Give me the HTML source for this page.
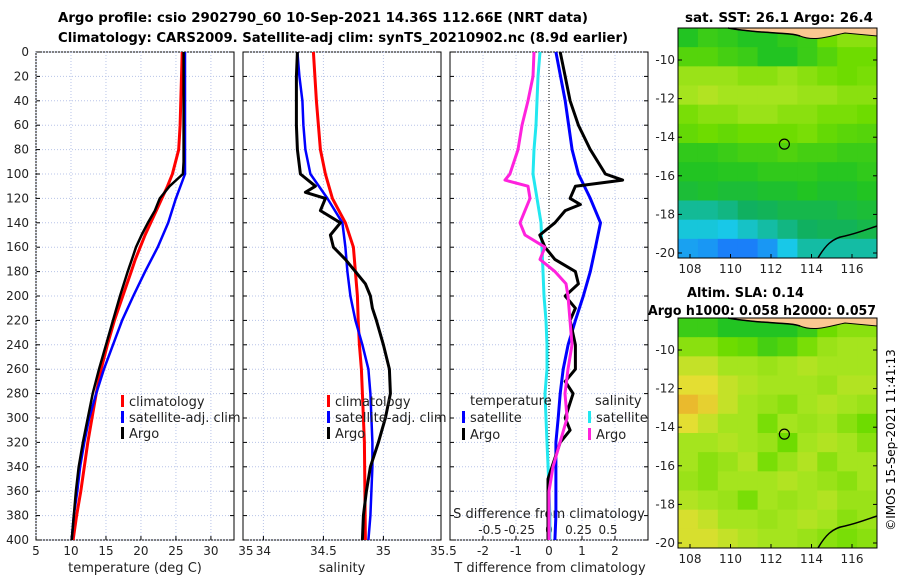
<!DOCTYPE html>
<html><head><meta charset="utf-8"><style>
body{margin:0;background:#fff;width:900px;height:580px;overflow:hidden;font-family:"Liberation Sans","DejaVu Sans",sans-serif}
svg text{font-family:"DejaVu Sans","Liberation Sans",sans-serif}
</style></head><body>
<svg id="c" width="900" height="580" xmlns="http://www.w3.org/2000/svg">
<text x="58" y="22" textLength="530" lengthAdjust="spacingAndGlyphs" font-size="13" font-weight="bold">Argo profile: csio 2902790_60 10-Sep-2021 14.36S 112.66E (NRT data)</text>
<text x="58" y="42" textLength="570" lengthAdjust="spacingAndGlyphs" font-size="13" font-weight="bold">Climatology: CARS2009. Satellite-adj clim: synTS_20210902.nc (8.9d earlier)</text>
<text x="685" y="22" textLength="188" lengthAdjust="spacingAndGlyphs" font-size="13" font-weight="bold">sat. SST: 26.1 Argo: 26.4</text>
<text x="687" y="297" textLength="117" lengthAdjust="spacingAndGlyphs" font-size="13" font-weight="bold">Altim. SLA: 0.14</text>
<text x="648" y="315" textLength="228" lengthAdjust="spacingAndGlyphs" font-size="13" font-weight="bold">Argo h1000: 0.058 h2000: 0.057</text>
<text transform="translate(895,440) rotate(-90)" font-size="12" text-anchor="middle">©IMOS 15-Sep-2021 11:41:13</text>
<g id="g"></g>
</svg>
<script>
// ---- data ----
const tClimDepth=[0,20,40,60,80,100,110,120,130,140,150,160,170,180,200,220,240,260,280,300,320,340,360,380,400];
const tClim=[25.9,25.8,25.7,25.6,25.4,24.5,23.8,23.0,22.2,21.4,20.6,19.9,19.2,18.6,17.4,16.2,15.2,14.3,13.6,13.0,12.4,11.9,11.4,10.8,10.3];
const tSatDepth=[0,20,40,60,80,100,120,140,160,180,200,220,240,260,280,300,320,340,360,380,400];
const tSat=[26.3,26.3,26.3,26.3,26.3,26.3,25.0,23.9,22.4,20.6,18.9,17.3,16.0,14.7,13.6,12.6,11.9,11.3,10.9,10.4,10.1];
const tArgoDepth=[0,20,40,60,80,90,100,110,120,130,140,150,160,170,180,200,220,240,260,280,300,320,340,360,380,400];
const tArgo=[26.1,26.1,26.1,26.1,26.1,26.1,26.0,24.1,22.7,22.0,21.0,20.1,19.3,18.7,18.1,17.0,16.0,15.0,14.0,13.1,12.4,11.7,11.1,10.7,10.4,10.1];
const sClimDepth=[0,40,80,100,120,140,160,180,200,220,240,260,280,300,320,400];
const sClim=[34.417,34.442,34.475,34.517,34.575,34.683,34.75,34.767,34.783,34.79,34.80,34.817,34.825,34.833,34.842,34.85];
const sSatDepth=[0,20,40,60,80,100,120,140,160,180,200,220,240,260,280,300,320,340,360,380,400];
const sSat=[34.283,34.30,34.325,34.333,34.35,34.392,34.533,34.658,34.683,34.70,34.725,34.767,34.825,34.875,34.892,34.90,34.908,34.908,34.90,34.892,34.875];
const sArgoDepth=[0,20,40,60,80,100,110,115,120,130,140,150,160,170,180,190,200,210,220,240,260,280,300,320,340,360,380,400];
const sArgo=[34.283,34.275,34.275,34.275,34.283,34.308,34.433,34.35,34.517,34.475,34.642,34.558,34.583,34.683,34.767,34.85,34.892,34.908,34.942,35.0,35.05,35.058,35.017,34.958,34.892,34.858,34.833,34.825];
const dTSatDepth=[0,40,80,100,120,140,160,180,200,220,240,260,280,300,320,340,360,380,400];
const dTSat=[0.21,0.49,0.70,0.89,1.25,1.56,1.41,1.25,1.04,0.80,0.58,0.43,0.34,0.28,0.21,0.21,0.21,0.21,0.18];
const dTArgoDepth=[0,20,40,60,80,100,105,110,120,125,130,140,150,160,170,180,190,200,210,220,240,260,270,280,300,310,320,340,350,360,380,400];
const dTArgo=[0.34,0.49,0.64,0.89,1.25,1.71,2.23,0.80,0.64,0.95,0.49,0.18,-0.28,-0.12,0.18,0.80,0.89,0.49,0.80,0.64,0.80,0.80,0.49,0.73,0.49,0.64,0.34,0.09,-0.03,-0.03,-0.03,-0.03];
const dSSatDepth=[0,20,40,60,80,100,120,140,160,180,200,220,240,260,280,300,320,340,360,380,400];
const dSSat=[-0.076,-0.093,-0.102,-0.11,-0.127,-0.136,-0.102,-0.068,-0.059,-0.051,-0.042,-0.025,-0.017,-0.017,-0.034,-0.025,-0.017,-0.008,0,0.008,0.008];
const dSArgoDepth=[0,20,40,60,80,100,105,110,120,130,140,150,160,170,180,190,200,220,240,260,280,300,320,340,360,380,400];
const dSArgo=[-0.127,-0.136,-0.178,-0.229,-0.263,-0.331,-0.373,-0.178,-0.161,-0.203,-0.246,-0.203,-0.034,-0.076,0.051,0.144,0.161,0.178,0.195,0.161,0.136,0.153,0.093,0.034,0,0,0];
const sstGrid=[[.55,.6,.58,.55,.55,.58,.6,.7,.75,.75],[.65,.65,.62,.6,.55,.55,.6,.65,.7,.7],[.78,.78,.78,.75,.75,.78,.75,.72,.7,.72],[.8,.82,.8,.8,.8,.8,.78,.78,.75,.75],[.72,.75,.75,.78,.78,.75,.75,.72,.72,.7],[.68,.7,.68,.7,.7,.7,.72,.68,.66,.65],[.58,.58,.6,.62,.62,.64,.62,.62,.6,.6],[.55,.55,.56,.56,.58,.58,.58,.56,.56,.58],[.5,.52,.5,.5,.52,.52,.55,.52,.52,.55],[.32,.32,.35,.4,.42,.45,.45,.45,.48,.5],[.22,.22,.2,.25,.3,.35,.4,.42,.42,.45],[.12,.1,.05,.05,.1,.2,.3,.3,.3,.3]];
const slaGrid=[[.6,.6,.55,.55,.55,.55,.6,.7,.75,.75],[.75,.75,.7,.68,.62,.65,.72,.78,.8,.8],[.85,.85,.8,.8,.78,.8,.82,.8,.8,.8],[.9,.9,.85,.82,.8,.8,.8,.78,.82,.82],[.95,.92,.85,.8,.78,.75,.8,.82,.8,.78],[.9,.85,.8,.8,.72,.8,.78,.8,.75,.7],[.8,.8,.82,.8,.78,.7,.8,.82,.8,.75],[.8,.75,.78,.82,.72,.78,.82,.75,.8,.8],[.78,.75,.8,.8,.8,.82,.8,.78,.75,.8],[.82,.8,.78,.72,.8,.78,.8,.82,.78,.78],[.88,.85,.8,.8,.78,.8,.82,.8,.75,.78],[.88,.88,.85,.82,.8,.8,.78,.75,.72,.75]];
const depthTicks=[0,20,40,60,80,100,120,140,160,180,200,220,240,260,280,300,320,340,360,380,400];
const tTicks=[5,10,15,20,25,30,35];
const sTicks=[34,34.5,35,35.5];
const dTTicks=[-2,-1,0,1,2];
const dSTickLabels=["-0.5","-0.25","0","0.25","0.5"];
const dSTicks=[-0.5,-0.25,0,0.25,0.5];
const latTicks=[-10,-12,-14,-16,-18,-20];
const lonTicks=[108,110,112,114,116];
const argoLon=112.66, argoLat=-14.36;

const NS="http://www.w3.org/2000/svg";
const G=document.getElementById('g');
function el(t,a,p){const e=document.createElementNS(NS,t);for(const k in a)e.setAttribute(k,a[k]);(p||G).appendChild(e);return e;}
const Y0=52,Y1=540;
const yD=d=>Y0+(d/400)*(Y1-Y0);
const panels=[{x0:36,x1:234,v0:5,v1:33.3},{x0:243,x1:441,v0:33.83,v1:35.48},{x0:450,x1:648,v0:-3,v1:3}];
function xf(p){return v=>p.x0+(v-p.v0)/(p.v1-p.v0)*(p.x1-p.x0);}
const xT=xf(panels[0]),xS=xf(panels[1]),xDT=xf(panels[2]);
const xDS=v=>549+v*118;
panels.forEach((p,i)=>{
  const f=el('rect',{x:p.x0,y:Y0,width:p.x1-p.x0,height:Y1-Y0,fill:'#fff',stroke:'#000','stroke-width':1});
  
  
  depthTicks.forEach(d=>{const l=el('line',{x1:p.x0,x2:p.x1,y1:yD(d),y2:yD(d),stroke:'#b8c4e8','stroke-dasharray':'1,2'});
    
    el('line',{x1:p.x0,x2:p.x0+4,y1:yD(d),y2:yD(d),stroke:'#000'});el('line',{x1:p.x1-4,x2:p.x1,y1:yD(d),y2:yD(d),stroke:'#000'});});
});
depthTicks.forEach(d=>{const t=el('text',{x:29,y:yD(d)+4,'text-anchor':'end','font-size':12,fill:'#222'});t.textContent=d;
  });
function xTicks(ticks,f,p,labels,ly,nm){ticks.forEach((v,i)=>{const x=f(v);
  if(x>=p.x0-0.5&&x<=p.x1+0.5){el('line',{x1:x,x2:x,y1:Y0,y2:Y1,stroke:'#b8c4e8','stroke-dasharray':'1,2'});
   el('line',{x1:x,x2:x,y1:Y1-4,y2:Y1,stroke:'#000'});}
  const t=el('text',{x:x,y:ly,'text-anchor':'middle','font-size':12,fill:'#222'});t.textContent=labels?labels[i]:v;
  });}
xTicks(tTicks,xT,panels[0],null,555,'temperature-tick-label');
xTicks(sTicks,xS,panels[1],null,555,'salinity-tick-label');
xTicks(dTTicks,xDT,panels[2],null,555,'t-diff-tick-label');
dSTicks.forEach((v,i)=>{const t=el('text',{x:xDS(v),y:534,'text-anchor':'middle','font-size':12,fill:'#222'});t.textContent=dSTickLabels[i];
  });
el('line',{x1:549,x2:549,y1:Y0,y2:Y1,stroke:'#000','stroke-dasharray':'1,2'});
[['temperature (deg C)',135,'temperature-axis-title'],['salinity',342,'salinity-axis-title'],['T difference from climatology',550,'t-diff-axis-title']].forEach(a=>{
  const t=el('text',{x:a[1],y:572,'text-anchor':'middle','font-size':13,fill:'#222'});t.textContent=a[0];
  });
const st=el('text',{x:549,y:518,'text-anchor':'middle','font-size':13,fill:'#222'});st.textContent='S difference from climatology';

function line(depths,vals,f,col,w,nm){const pts=depths.map((d,i)=>f(vals[i]).toFixed(1)+','+yD(d).toFixed(1)).join(' ');
  const l=el('polyline',{points:pts,fill:'none',stroke:col,'stroke-width':w,'stroke-linejoin':'round'});
  }
line(tClimDepth,tClim,xT,'#ff0000',3,'temperature-climatology-line');
line(tSatDepth,tSat,xT,'#0000ff',2.5,'temperature-satellite-line');
line(tArgoDepth,tArgo,xT,'#000',2.5,'temperature-argo-line');
line(sClimDepth,sClim,xS,'#ff0000',3,'salinity-climatology-line');
line(sSatDepth,sSat,xS,'#0000ff',2.5,'salinity-satellite-line');
line(sArgoDepth,sArgo,xS,'#000',3,'salinity-argo-line');
line(dSSatDepth,dSSat,xDS,'#22e8f0',3,'s-diff-satellite-line');
line(dTSatDepth,dTSat,xDT,'#0000ff',3,'t-diff-satellite-line');
line(dTArgoDepth,dTArgo,xDT,'#000',3,'t-diff-argo-line');
line(dSArgoDepth,dSArgo,xDS,'#ff22dd',3,'s-diff-argo-line');
function leg(x,y,col,txt,nm){el('rect',{x:x,y:y-10,width:3,height:12,fill:col});
  const t=el('text',{x:x+8,y:y+1,'font-size':13,fill:'#222'});t.textContent=txt;}
[[0,'climatology','#ff0000'],[1,'satellite-adj. clim','#0000ff'],[2,'Argo','#000']].forEach(r=>{
  leg(121,405+r[0]*16,r[2],r[1],'legend-t-'+r[0]);leg(327,405+r[0]*16,r[2],r[1],'legend-s-'+r[0]);});
let t1=el('text',{x:470,y:405,'font-size':13,fill:'#222'});t1.textContent='temperature';
let t2=el('text',{x:595,y:405,'font-size':13,fill:'#222'});t2.textContent='salinity';
leg(462,421,'#0000ff','satellite','legend-tdiff-satellite');leg(462,438,'#000','Argo','legend-tdiff-argo');
leg(588,421,'#22e8f0','satellite','legend-sdiff-satellite');leg(588,438,'#ff22dd','Argo','legend-sdiff-argo');
const stops=[[0,[26,102,255]],[0.2,[24,200,232]],[0.4,[16,176,96]],[0.55,[34,196,34]],[0.7,[110,220,0]],[0.8,[165,228,30]],[0.9,[228,222,50]],[1,[240,150,40]]];
function cmap(v){for(let i=1;i<stops.length;i++){if(v<=stops[i][0]){const a=stops[i-1],b=stops[i],t=(v-a[0])/(b[0]-a[0]);
  return 'rgb('+a[1].map((c,j)=>Math.round(c+(b[1][j]-c)*t)).join(',')+')';}}return 'rgb(240,150,40)';}
function drawMap(grid,top,nm){const x0=678,x1=877,y0=top,y1=top+230;
  const lonX=l=>690+(l-108)*20.25, latY=l=>top+32+(-10-l)*19.3;
  const fr=el('g',{});
  const rows=grid.length,cols=grid[0].length,cw=(x1-x0)/cols,ch=(y1-y0)/rows;
  grid.forEach((r,i)=>r.forEach((v,j)=>{el('rect',{x:x0+j*cw,y:y0+i*ch,width:cw+0.5,height:ch+0.5,fill:cmap(v)},fr);}));
  el('path',{d:`M${x0+50},${y0} C760,${y0+6} 790,${y0+4} 800,${y0+8} C815,${y0+14} 830,${y0+8} 845,${y0+5} L877,${y0+8} L877,${y0} Z`,fill:'#fbc891',stroke:'#000','stroke-width':1},fr);
  el('path',{d:`M${x0+50},${y0} C760,${y0+6} 790,${y0+4} 800,${y0+8}`,fill:'none',stroke:'#000','stroke-width':1.5},fr);
  el('path',{d:`M818,${y1} C825,${y1-12} 832,${y1-20} 845,${y1-22} C858,${y1-25} 865,${y1-28} 877,${y1-32}`,fill:'none',stroke:'#000','stroke-width':1.5},fr);
  el('rect',{x:x0,y:y0,width:x1-x0,height:y1-y0,fill:'none',stroke:'#000'},fr);
  const c=el('circle',{cx:lonX(argoLon),cy:latY(argoLat),r:5,fill:'none',stroke:'#000','stroke-width':1.2},fr);
  
  latTicks.forEach(l=>{const y=latY(l);el('line',{x1:x1-4,x2:x1,y1:y,y2:y,stroke:'#000'});el('line',{x1:x0,x2:x0+4,y1:y,y2:y,stroke:'#000'});
    const t=el('text',{x:675,y:y+4,'text-anchor':'end','font-size':12,fill:'#222'});t.textContent=l;});
  lonTicks.forEach(l=>{const x=lonX(l);el('line',{x1:x,x2:x,y1:y1-4,y2:y1,stroke:'#000'});
    const t=el('text',{x:x,y:y1+15,'text-anchor':'middle','font-size':12,fill:'#222'});t.textContent=l;});
}
drawMap(sstGrid,28,'sst-map');
drawMap(slaGrid,318,'sla-map');
</script>
</body></html>
